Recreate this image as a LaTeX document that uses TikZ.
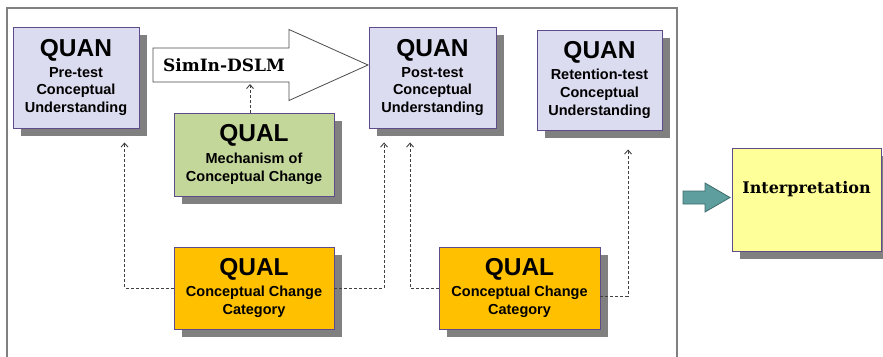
\documentclass[tikz,border=0pt]{standalone}
\usepackage{fontspec}
\setmainfont{Liberation Sans}
\newfontfamily\slabfont{DejaVu Serif}
\usetikzlibrary{shadows,arrows.meta,calc}
\definecolor{quanfill}{HTML}{DCDCF0}
\definecolor{mechfill}{HTML}{C4D79B}
\definecolor{catfill}{HTML}{FFC000}
\definecolor{interfill}{HTML}{FFFF99}
\definecolor{boxborder}{HTML}{5E4B8B}
\definecolor{shadowgray}{HTML}{808080}
\definecolor{framegray}{HTML}{808080}
\definecolor{tealfill}{HTML}{5E9E9E}
\definecolor{tealdraw}{HTML}{3D6B6B}
\definecolor{dashgray}{HTML}{404040}
\tikzset{
  boxbase/.style={draw=boxborder, line width=0.9pt, align=center, inner sep=0pt,
    font=\bfseries\fontsize{14.5}{17.7}\selectfont,
    drop shadow={shadow xshift=8pt, shadow yshift=-8pt, fill=shadowgray, opacity=1}},
  quanbox/.style={boxbase, fill=quanfill},
  mechbox/.style={boxbase, fill=mechfill},
  catbox/.style={boxbase, fill=catfill},
  interbox/.style={boxbase, fill=interfill},
  dashlink/.style={draw=dashgray, line width=0.9pt, dash pattern=on 3pt off 2pt,
    -{Straight Barb[length=4pt,width=7pt]}},
}
\newcommand{\bigword}[1]{{\fontsize{24.5}{26}\selectfont #1}}
\begin{document}
\begin{tikzpicture}[x=1pt,y=-1pt]
\useasboundingbox (0,0) rectangle (883,356);
% frame
\draw[framegray, line width=1.8pt] (7,370) -- (7,8) -- (677,8) -- (677,370);

% QUAN boxes
\node[quanbox, minimum width=126pt, minimum height=101pt] (pre) at (76,77.5)
  {\bigword{QUAN}\\[3pt]Pre-test\\Conceptual\\Understanding};
\node[quanbox, minimum width=127pt, minimum height=101pt] (post) at (432.5,77.5)
  {\bigword{QUAN}\\[3pt]Post-test\\Conceptual\\Understanding};
\node[quanbox, minimum width=125pt, minimum height=100pt] (ret) at (599.5,80)
  {\bigword{QUAN}\\[3pt]Retention-test\\Conceptual\\Understanding};

% big white arrow
\draw[black!70, line width=0.8pt, fill=white]
  (153,48) -- (289,48) -- (289,29.5) -- (368,65) -- (289,100.5) -- (289,82) -- (153,82) -- cycle;
\node[font=\slabfont\bfseries\fontsize{17}{19}\selectfont] (simin) at (224,65) {SimIn-DSLM};
\coordinate (arrbot) at (250,84);

% QUAL mechanism
\node[mechbox, minimum width=160pt, minimum height=83pt] (mech) at (254,154.5)
  {\bigword{QUAL}\\[4pt]Mechanism of\\Conceptual Change};

% QUAL categories
\node[catbox, minimum width=160pt, minimum height=82pt] (catL) at (254,288)
  {\bigword{QUAL}\\[3pt]Conceptual Change\\Category};
\node[catbox, minimum width=161pt, minimum height=82pt] (catR) at (519.5,288)
  {\bigword{QUAL}\\[3pt]Conceptual Change\\Category};

% Interpretation
\node[interbox, minimum width=149pt, minimum height=103pt] (inter) at (806.5,199.5)
  {\raisebox{24pt}{\slabfont\bfseries\fontsize{16}{18}\selectfont Interpretation}};

% teal arrow
\draw[tealdraw, line width=0.8pt, fill=tealfill]
  (683,191) -- (705,191) -- (705,183) -- (730,197.5) -- (705,212) -- (705,204) -- (683,204) -- cycle;

% dashed connectors
\draw[dashlink] (mech.north -| arrbot) -- (arrbot);
\draw[dashlink] (catL.west) -| ($(pre.south west)+(112,14)$);
\draw[dashlink] (catL.east) -| ($(post.south west)+(15.5,14)$);
\draw[dashlink] (catR.west) -| ($(post.south west)+(41.5,14)$);
\draw[dashlink] ($(catR.east)+(0,8)$) -| ($(ret.south west)+(91.5,19)$);
\end{tikzpicture}
\end{document}
